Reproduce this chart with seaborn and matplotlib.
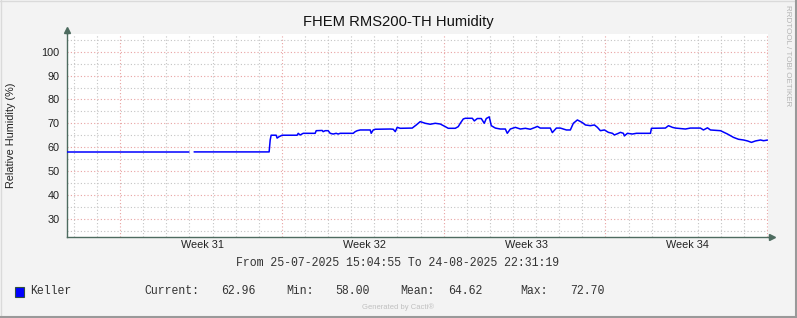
import numpy as np
import pandas as pd
import matplotlib
matplotlib.use("Agg")
import matplotlib.pyplot as plt
import matplotlib.transforms as mtrans
from matplotlib.patches import Rectangle
from matplotlib.lines import Line2D
import seaborn as sns

# ---------------- data ----------------
title = "FHEM RMS200-TH Humidity"
ylabel = "Relative Humidity (%)"
period = "From 25-07-2025 15:04:55 To 24-08-2025 22:31:19"
series_name = "Keller"
stat_names = ["Current:", "Min:", "Mean:", "Max:"]
stat_values = [62.96, 58.00, 64.62, 72.70]
week_labels = ["Week 31", "Week 32", "Week 33", "Week 34"]
span_hours = 727.44          # length of the shown period in hours
first_monday_h = 55.1        # hours from start to first week boundary

hours = [0.0, 126.8, 128.9, 132.0, 209.9, 211.0, 212.0, 217.2, 218.2, 220.3,
         223.4, 239.0, 240.1, 242.1, 245.3, 257.7, 258.8, 265.0, 266.0, 268.1,
         271.2, 273.3, 276.4, 279.5, 281.6, 283.7, 297.2, 299.3, 301.4, 304.5,
         314.9, 315.9, 318.0, 320.1, 335.7, 338.8, 340.9, 342.9, 346.1, 358.5,
         362.7, 366.8, 372.0, 377.2, 382.4, 387.6, 392.8, 395.9, 403.2, 406.3,
         408.4, 411.5, 413.6, 420.9, 423.0, 426.1, 430.2, 433.3, 435.4, 438.5,
         440.6, 444.8, 450.0, 455.2, 457.2, 460.4, 465.6, 470.8, 476.0, 481.1,
         486.3, 488.4, 491.5, 501.9, 504.0, 508.2, 512.3, 518.6, 522.7, 525.8,
         530.0, 535.2, 538.3, 543.5, 547.7, 550.8, 553.9, 558.1, 562.2, 566.4,
         568.4, 572.6, 574.7, 577.8, 578.8, 582.0, 587.1, 591.3, 605.9, 606.9,
         621.4, 624.6, 628.7, 631.8, 642.2, 647.4, 657.8, 660.9, 665.1, 668.2,
         678.6, 685.9, 692.1, 697.3, 702.5, 706.7, 710.8, 715.0, 720.2, 723.3,
         727.4]
humidity = [58.0, 58.0, np.nan, 58.0, 58.0, 63.0, 65.0, 65.0, 63.8, 64.4,
            65.0, 65.0, 65.8, 65.1, 65.8, 65.8, 66.9, 67.0, 66.5, 66.9,
            66.9, 65.8, 65.5, 65.8, 65.5, 65.8, 65.8, 66.5, 66.9, 67.2,
            67.2, 65.8, 67.2, 67.5, 67.6, 67.5, 66.5, 68.3, 67.9, 68.0,
            69.3, 70.7, 70.0, 69.6, 70.0, 69.7, 68.6, 67.9, 67.9, 68.6,
            70.0, 71.8, 72.1, 72.1, 71.0, 72.0, 72.0, 70.0, 72.0, 72.7,
            69.0, 68.0, 67.6, 67.6, 65.8, 67.6, 68.3, 67.6, 67.9, 67.5,
            68.3, 68.7, 68.0, 68.0, 66.1, 68.0, 68.0, 67.2, 67.2, 70.0,
            71.4, 70.3, 69.3, 69.0, 69.3, 68.3, 66.9, 67.2, 66.2, 65.8,
            65.1, 65.8, 66.2, 65.8, 64.7, 65.8, 65.5, 65.8, 65.8, 67.9,
            68.0, 69.0, 68.3, 68.0, 67.6, 68.0, 68.0, 67.2, 68.1, 67.2,
            66.9, 65.5, 64.1, 63.3, 63.0, 62.6, 62.0, 62.6, 63.0, 62.7,
            62.96]

df = pd.DataFrame({"h": hours, "rh": humidity})
df["seg"] = df["rh"].isna().cumsum()
df = df.dropna()

# ---------------- style ----------------
sns.set_style("white")
plt.rcParams["font.family"] = ["Liberation Sans", "DejaVu Sans"]

W, H = 797, 318
fig = plt.figure(figsize=(W / 100, H / 100), dpi=100, facecolor="#F3F3F3")

def fx(px):
    return px / W

def fy(py):
    return 1 - py / H

ax_l, ax_r, ax_t, ax_b = 67, 767.5, 34, 236.7
ax = fig.add_axes([fx(ax_l), fy(ax_b), (ax_r - ax_l) / W, (ax_b - ax_t) / H])
ax.set_facecolor("white")

sns.lineplot(data=df, x="h", y="rh", units="seg", estimator=None,
             color="#0000FF", lw=1.1, ax=ax, zorder=5, legend=False)

ax.set_xlim(0, span_hours)
ax.set_ylim(22.45, 107.44)

week_starts = np.arange(first_monday_h, span_hours, 168.0)
days = np.arange(first_monday_h - 48, span_hours, 24.0)
ax.set_xticks(week_starts)
ax.set_xticks(days, minor=True)
ax.set_xticklabels([])
ax.set_yticks(np.arange(30, 101, 10))
ax.set_yticks(np.arange(25, 106, 5), minor=True)
ax.set_yticklabels([str(v) for v in range(30, 101, 10)])

ax.grid(which="minor", color="#c4c4c4", linestyle=(0, (1, 2)), lw=0.8)
ax.grid(which="major", color="#e9a2a2", linestyle=(0, (1, 2)), lw=0.8)
ax.set_axisbelow(True)

axis_col = "#4d6b5f"
for s in ["top", "right"]:
    ax.spines[s].set_visible(False)
for s in ["left", "bottom"]:
    ax.spines[s].set_color(axis_col)
    ax.spines[s].set_linewidth(1.0)

ax.tick_params(axis="y", which="both", direction="out", length=2.5, width=0.7,
               color="#777777", pad=3, labelsize=7.8, labelcolor="#222222")
ax.tick_params(axis="x", which="major", direction="out", length=2.5, width=0.7,
               color="#e08080")
ax.tick_params(axis="x", which="minor", direction="out", length=2, width=0.7,
               color="#777777")

# arrow heads
ax.plot([0], [1.0 + 4.5 / (ax_b - ax_t)], marker="^", ms=4.5, color=axis_col,
        transform=ax.transAxes, clip_on=False)
ax.plot([0, 0], [1.0, 1.0 + 4 / (ax_b - ax_t)], color=axis_col, lw=1.0,
        transform=ax.transAxes, clip_on=False)
ax.plot([1.0 + 4.5 / (ax_r - ax_l)], [0], marker=">", ms=4.5, color=axis_col,
        transform=ax.transAxes, clip_on=False)
ax.plot([1.0, 1.0 + 4 / (ax_r - ax_l)], [0, 0], color=axis_col, lw=1.0,
        transform=ax.transAxes, clip_on=False)

# week labels
blend = mtrans.blended_transform_factory(ax.transData, ax.transAxes)
for ws, lab in zip(week_starts, week_labels):
    ax.text(ws + 85.7, -(245 - ax_b) / (ax_b - ax_t), lab, transform=blend,
            ha="center", va="center", fontsize=7.8, color="#222222")

ax.set_xlabel("")
ax.set_ylabel("")

# titles / labels
fig.text(fx(398), fy(22), title, ha="center", va="center", fontsize=10.6,
         color="#111111")
fig.text(fx(11), fy((ax_t + ax_b) / 2), ylabel, rotation=90, ha="center",
         va="center", fontsize=7.8, color="#222222")
fig.text(fx(788), fy(5), "RRDTOOL / TOBI OETIKER", rotation=270, ha="center",
         va="top", fontsize=5.8, color="#b4b4b4")

mono = ["Liberation Mono", "DejaVu Sans Mono"]
fig.text(fx(398), fy(262.7), period, ha="center", va="center", fontsize=8.3,
         family=mono, color="#333333")

# legend row
fig.add_artist(Rectangle((fx(15), fy(296.5)), 9 / W, 9.5 / H,
                         transform=fig.transFigure, facecolor="#0000FF",
                         edgecolor="#2f4f3f", lw=0.8))
ly = fy(291)
fig.text(fx(30), ly, series_name, ha="left", va="center", fontsize=8.3,
         family=mono, color="#333333")
for name, val, xn, xv in zip(stat_names, stat_values,
                             [144, 286, 400, 520], [221, 335, 448, 570]):
    fig.text(fx(xn), ly, name, ha="left", va="center", fontsize=8.3,
             family=mono, color="#333333")
    fig.text(fx(xv), ly, f"{val:.2f}", ha="left", va="center", fontsize=8.3,
             family=mono, color="#333333")

fig.text(fx(398.5), fy(307.5), "Generated by Cacti®", ha="center", va="center",
         fontsize=5.5, color="#c0c0c0")

# outer frame
fig.add_artist(Line2D([0, 1], [fy(0.5), fy(0.5)], transform=fig.transFigure,
                      color="#dadada", lw=1.0))
fig.add_artist(Line2D([fx(0.5), fx(0.5)], [0, 1], transform=fig.transFigure,
                      color="#dadada", lw=1.0))
fig.add_artist(Line2D([0, 1], [fy(317), fy(317)], transform=fig.transFigure,
                      color="#999999", lw=1.5))
fig.add_artist(Line2D([fx(796), fx(796)], [0, 1], transform=fig.transFigure,
                      color="#999999", lw=1.5))

fig.savefig("out.png", dpi=100, facecolor=fig.get_facecolor())
